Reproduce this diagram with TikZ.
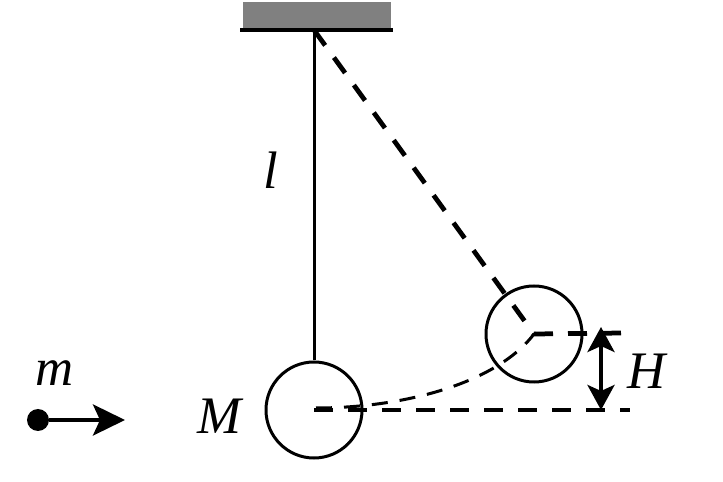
\documentclass[tikz,border=0pt]{standalone}
\usepackage{fontspec}
\setmainfont{Liberation Serif}
\usetikzlibrary{arrows.meta}
\tikzset{
	ball/.style={draw, circle, inner sep=0, minimum size=1.92cm, line width=0.06cm},
	letter/.style={inner sep=0, font=\fontsize{30}{30}\selectfont\itshape},
	rope/.style={line width=0.06cm},
	guide/.style={line width=0.095cm, dash pattern=on 0.38cm off 0.3cm},
	swing/.style={line width=0.06cm, dash pattern=on 0.32cm off 0.24cm}
}

\begin{document}
\begin{tikzpicture}
		%%%%% START %%%%%
		\useasboundingbox (0, 0) rectangle (14.46, 9.64);
		
		\fill[black!50] (4.86, 9.06) rectangle (7.82, 9.6);
		\coordinate (wallL) at (4.8, 9.04);
		\coordinate (wallR) at (7.86, 9.04);
		\coordinate (pivot) at (6.28, 9.04);
		\draw[line width=0.07cm] (wallL) -- (wallR);
		
		\node[ball] (bigball) at (6.28, 1.44) {};
		\node[ball] (sideball) at (10.68, 2.96) {};
		\draw[rope] (pivot) -- (bigball);
		
		\coordinate (low) at (6.28, 1.44);
		\coordinate (lowend) at (12.6, 1.44);
		\coordinate (highend) at (12.46, 2.98);
		\coordinate (arcstart) at (6.32, 1.48);
		\draw[guide] (pivot) -- (sideball.center);
		\draw[guide] (low) -- (lowend);
		\draw[guide] (sideball.center) -- (highend);
		\draw[swing] (arcstart) .. controls (8, 1.48) and (9.9, 1.94) .. (sideball.center);
		
		\coordinate (hightip) at (12.02, 3.1);
		\coordinate (lowtip) at (12.02, 1.44);
		\draw[{Stealth[length=0.5cm, width=0.54cm, inset=0.12cm]}-{Stealth[length=0.5cm, width=0.54cm, inset=0.12cm]}, line width=0.08cm] (hightip) -- (lowtip);
		
		\node[circle, fill=black, inner sep=0, minimum size=0.44cm] (bullet) at (0.76, 1.24) {};
		\coordinate (bullettip) at (2.5, 1.24);
		\draw[-{Stealth[length=0.64cm, width=0.62cm, inset=0.14cm]}, line width=0.08cm] (bullet) -- (bullettip);
		
		\node[letter] (lenl) at (5.42, 6.24) {l};
		\node[letter] (massM) at (4.38, 1.32) {M};
		\node[letter] (massm) at (1.1, 2.18) {m};
		\node[letter] (highH) at (12.94, 2.22) {H};
		%%%%% END %%%%%
	\end{tikzpicture}
\end{document}
